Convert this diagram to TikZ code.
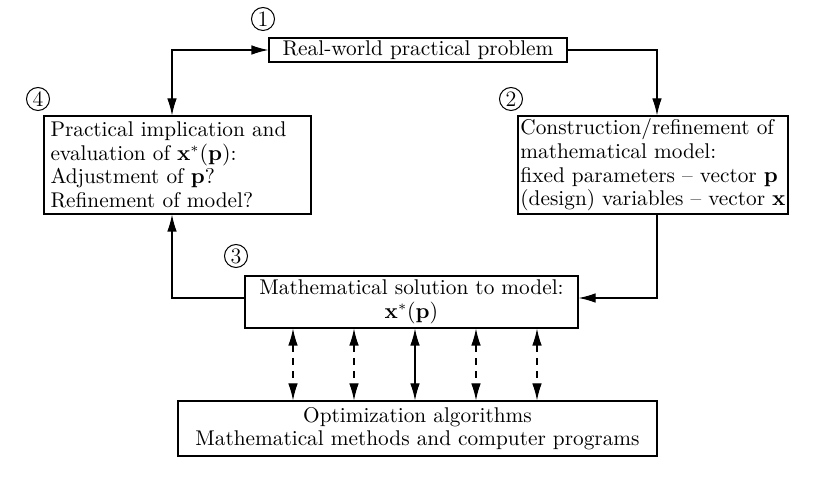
\documentclass[tikz,border=0pt]{standalone}
\usetikzlibrary{arrows.meta}
\begin{document}
\begin{tikzpicture}[x=0.5pt,y=-0.5pt,
  every node/.style={font=\fontsize{10.65}{11.8}\selectfont},
  box/.style={draw, line width=0.6pt, rectangle, inner sep=0pt},
  num/.style={draw, circle, line width=0.5pt, inner sep=0.5pt, minimum size=11.5pt, font=\fontsize{11}{12}\selectfont},
  conn/.style={line width=0.6pt, -{Latex[length=8.5pt,width=4.8pt]}},
  dconn/.style={line width=0.6pt, {Latex[length=8.5pt,width=4.8pt]}-{Latex[length=8.5pt,width=4.8pt]}},
  dsh/.style={dash pattern=on 3.5pt off 3pt}]
\useasboundingbox (0,0) rectangle (831,480);
% boxes
\node[box, minimum width=149pt, minimum height=12pt] (b1) at (418,50) {Real-world practical problem};
\node[box, minimum width=133.5pt, minimum height=49pt, text width=127pt, align=left] (b4) at (177.5,165)
  {Practical implication and\\ evaluation of $\mathbf{x}^*(\mathbf{p})$:\\ Adjustment of $\mathbf{p}$?\\ Refinement of model?};
\node[box, minimum width=135pt, minimum height=49pt, align=left] (b2) at (653,165)
  {Construction/refinement of\\ mathematical model:\\ fixed parameters -- vector $\mathbf{p}$\\ (design) variables -- vector $\mathbf{x}$};
\node[box, minimum width=166.5pt, minimum height=26pt, align=center] (b3) at (411.5,302)
  {Mathematical solution to model:\\ $\mathbf{x}^*(\mathbf{p})$};
\node[box, minimum width=239.5pt, minimum height=27.5pt, align=center] (b5) at (417.5,428.5)
  {Optimization algorithms\\ Mathematical methods and computer programs};
% circled numbers
\node[num] (n1) at (263,19) {1};
\node[num] (n2) at (511,99) {2};
\node[num] (n3) at (236,256) {3};
\node[num] (n4) at (38,99) {4};
% connectors
\coordinate (c41) at (172,50);
\draw[dconn] (b4.north -| c41) -- (c41) -- (b1.west);
\coordinate (c12) at (657,50);
\draw[conn] (b1.east) -- (c12) -- (b2.north -| c12);
\coordinate (c23) at (657,298);
\draw[conn] (b2.south -| c23) -- (c23) -- (b3.east |- c23);
\coordinate (c34) at (172,298);
\draw[conn] (b3.west |- c34) -- (c34) -- (b4.south -| c34);
% vertical links
\foreach \x/\s in {293/dsh,354/dsh,415/solid,476/dsh,537/dsh}{
  \coordinate (t\x) at (\x,328);
  \coordinate (u\x) at (\x,401);
  \draw[dconn,\s] (b3.south -| t\x) -- (b5.north -| u\x);
}
\end{tikzpicture}
\end{document}
